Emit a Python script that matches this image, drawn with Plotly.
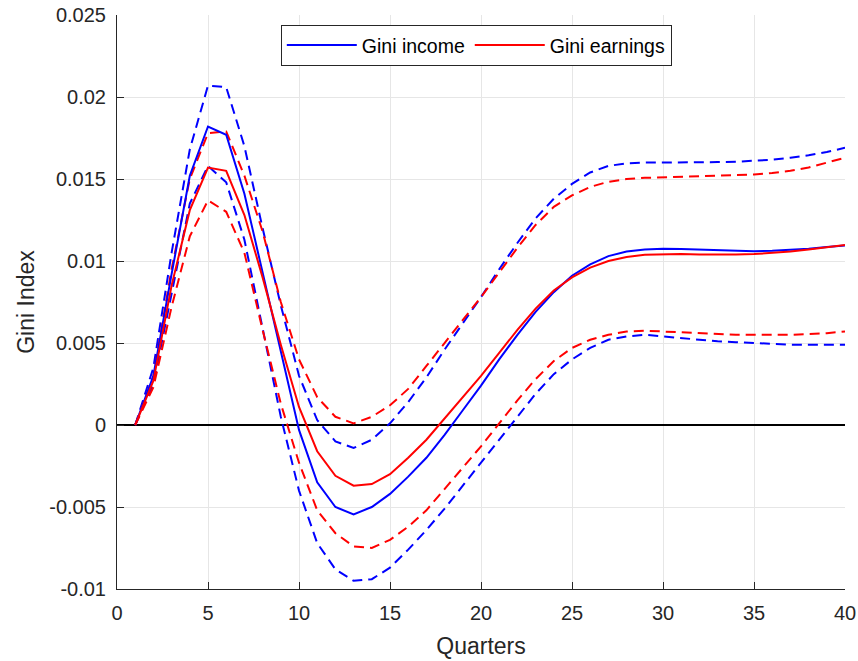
import plotly.graph_objects as go

quarters = list(range(1, 41))

gini_income = [0, 0.0030, 0.0092, 0.0152, 0.0182, 0.0177, 0.0141, 0.0093, 0.0044, -0.0003,
               -0.0035, -0.0050, -0.00545, -0.0050, -0.0042, -0.00315, -0.0020, -0.0006, 0.0009, 0.0024,
               0.0040, 0.0055, 0.0069, 0.0081, 0.0091, 0.0098, 0.0103, 0.01058, 0.0107, 0.01075,
               0.01073, 0.0107, 0.01065, 0.0106, 0.0106, 0.01062, 0.01068, 0.01075, 0.01085, 0.01095]

gini_earnings = [0, 0.0027, 0.0085, 0.0131, 0.0157, 0.0155, 0.0128, 0.0090, 0.0049, 0.0011,
                 -0.0016, -0.0031, -0.0037, -0.0036, -0.0030, -0.0020, -0.0009, 0.0004, 0.0017, 0.0030,
                 0.0044, 0.0058, 0.0071, 0.0082, 0.0090, 0.0096, 0.0100, 0.01025, 0.01038, 0.01042,
                 0.01042, 0.0104, 0.01038, 0.0104, 0.01042, 0.01048, 0.01058, 0.0107, 0.01082, 0.01098]

income_upper = [0, 0.0035, 0.0105, 0.0168, 0.0207, 0.0206, 0.0170, 0.0120, 0.0073, 0.0030,
                0.0003, -0.0010, -0.0014, -0.0009, 0.0001, 0.0014, 0.0029, 0.0046, 0.0062, 0.0078,
                0.0095, 0.0111, 0.0126, 0.0138, 0.0147, 0.0154, 0.0158, 0.01595, 0.0160, 0.0160,
                0.01602, 0.01603, 0.01603, 0.01605, 0.0161, 0.01618, 0.0163, 0.01645, 0.01665, 0.0169]

earnings_upper = [0, 0.0030, 0.0095, 0.0150, 0.0178, 0.0179, 0.0152, 0.0118, 0.0075, 0.0040,
                  0.0017, 0.0005, 0.0001, 0.0005, 0.0012, 0.0022, 0.0036, 0.0050, 0.0064, 0.0078,
                  0.0093, 0.0108, 0.0122, 0.0133, 0.0140, 0.01452, 0.01483, 0.01500, 0.01507, 0.0151,
                  0.01513, 0.01515, 0.01517, 0.0152, 0.01527, 0.01537, 0.0155, 0.0157, 0.0160, 0.0163]

income_lower = [0, 0.0025, 0.0080, 0.0135, 0.0158, 0.0148, 0.0113, 0.0058, 0.0005, -0.0040,
                -0.0072, -0.0088, -0.0095, -0.0094, -0.0087, -0.0076, -0.0064, -0.0051, -0.0037, -0.0023,
                -0.0009, 0.0005, 0.0019, 0.0031, 0.0040, 0.0047, 0.0052, 0.0054, 0.0055, 0.0054,
                0.0053, 0.0052, 0.0051, 0.00505, 0.0050, 0.00493, 0.0049, 0.0049, 0.0049, 0.0049]

earnings_lower = [0, 0.0023, 0.0072, 0.0115, 0.0137, 0.0130, 0.0105, 0.0058, 0.0013, -0.0023,
                  -0.0052, -0.0066, -0.0074, -0.0075, -0.0070, -0.0062, -0.0052, -0.0039, -0.0026, -0.0013,
                  0.0001, 0.0015, 0.0028, 0.0039, 0.0047, 0.0052, 0.0055, 0.0057, 0.00575, 0.0057,
                  0.00565, 0.0056, 0.00555, 0.0055, 0.0055, 0.0055, 0.0055, 0.00555, 0.0056, 0.0057]

x_ticks = [0, 5, 10, 15, 20, 25, 30, 35, 40]
y_ticks = [-0.01, -0.005, 0, 0.005, 0.01, 0.015, 0.02, 0.025]
y_tick_labels = ["-0.01", "-0.005", "0", "0.005", "0.01", "0.015", "0.02", "0.025"]

BLUE = "#0000FF"
RED = "#FF0000"
AX = "#262626"
GRID = "#E6E6E6"
FONT = "Liberation Sans, Arial, sans-serif"
DASH = "10px,6px"

fig = go.Figure()

fig.add_trace(go.Scatter(x=quarters, y=income_upper, mode="lines", showlegend=False,
                         line=dict(color=BLUE, width=2, dash=DASH)))
fig.add_trace(go.Scatter(x=quarters, y=income_lower, mode="lines", showlegend=False,
                         line=dict(color=BLUE, width=2, dash=DASH)))
fig.add_trace(go.Scatter(x=quarters, y=earnings_upper, mode="lines", showlegend=False,
                         line=dict(color=RED, width=2, dash=DASH)))
fig.add_trace(go.Scatter(x=quarters, y=earnings_lower, mode="lines", showlegend=False,
                         line=dict(color=RED, width=2, dash=DASH)))
fig.add_trace(go.Scatter(x=quarters, y=gini_income, mode="lines", name="Gini income",
                         line=dict(color=BLUE, width=2)))
fig.add_trace(go.Scatter(x=quarters, y=gini_earnings, mode="lines", name="Gini earnings",
                         line=dict(color=RED, width=2)))

fig.update_layout(
    width=858, height=661,
    margin=dict(l=117, r=13, t=15, b=72),
    paper_bgcolor="white", plot_bgcolor="white",
    font=dict(family=FONT, size=20, color=AX),
    legend=dict(
        orientation="h", x=0.225, y=0.983, xanchor="left", yanchor="top",
        bgcolor="white", bordercolor=AX, borderwidth=1,
        font=dict(family=FONT, size=19.5, color="black"),
        itemwidth=70, tracegroupgap=0,
    ),
    xaxis=dict(
        range=[0, 40], tickmode="array", tickvals=x_ticks,
        showgrid=True, gridcolor=GRID, gridwidth=1,
        showline=True, linecolor=AX, linewidth=1, mirror=False,
        ticks="inside", ticklen=7, tickcolor=AX, zeroline=False,
        tickfont=dict(family=FONT, size=20, color=AX),
        ticklabelstandoff=6, automargin=False,
        title=dict(text="Quarters", font=dict(family=FONT, size=23, color=AX), standoff=14),
    ),
    yaxis=dict(
        range=[-0.01, 0.025], tickmode="array", tickvals=y_ticks, ticktext=y_tick_labels,
        showgrid=True, gridcolor=GRID, gridwidth=1,
        showline=True, linecolor=AX, linewidth=1, mirror=False,
        ticks="inside", ticklen=7, tickcolor=AX,
        zeroline=True, zerolinecolor="black", zerolinewidth=2,
        tickfont=dict(family=FONT, size=20, color=AX),
        ticklabelstandoff=6, automargin=False,
        title=dict(text="Gini Index", font=dict(family=FONT, size=23, color=AX), standoff=8),
    ),
)

fig.write_html("out.html")
